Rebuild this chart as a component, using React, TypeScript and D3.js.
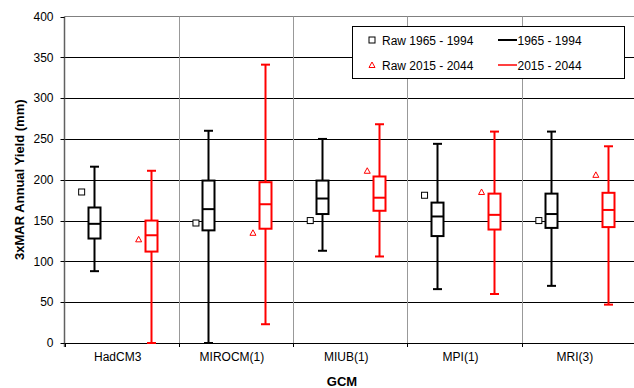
import React from 'react';
import * as d3 from 'd3';

// GCM names along the x axis
const categories = ['HadCM3', 'MIROCM(1)', 'MIUB(1)', 'MPI(1)', 'MRI(3)'];

// 1965 - 1994 box statistics (mm)
const histMin = [88, 0, 113, 66, 70];
const histQ1 = [128, 138, 158, 131, 141];
const histMed = [146, 164, 177, 155, 158];
const histQ3 = [166, 199, 199, 172, 183];
const histMax = [216, 260, 250, 244, 259];
const histRaw = [185, 147, 150, 181, 150];

// 2015 - 2044 box statistics (mm)
const futMin = [0, 23, 106, 60, 47];
const futQ1 = [112, 140, 162, 139, 142];
const futMed = [132, 170, 178, 157, 163];
const futQ3 = [150, 197, 204, 183, 184];
const futMax = [211, 341, 268, 259, 241];
const futRaw = [127, 135, 211, 185, 206];

const yTicks = [0, 50, 100, 150, 200, 250, 300, 350, 400];

const W = 634;
const H = 388;
const left = 64.5;
const right = 636;
const top = 16.5;
const bottom = 343;
const font = 'Liberation Sans, Arial, sans-serif';

export default function App() {
  const x = d3.scaleBand<string>().domain(categories).range([left, right]);
  const y = d3.scaleLinear().domain([0, 400]).range([bottom, top]);
  const cx = (c: string) => (x(c) as number) + x.bandwidth() / 2;

  const series = [
    { color: '#000', off: -28, rawOff: -40, min: histMin, q1: histQ1, med: histMed, q3: histQ3, max: histMax, raw: histRaw, marker: 'square' },
    { color: '#ff0000', off: 29, rawOff: 17, min: futMin, q1: futQ1, med: futMed, q3: futQ3, max: futMax, raw: futRaw, marker: 'tri' },
  ];
  const boxW = 12;
  const capW = 9;

  return (
    <svg width={W} height={H} style={{ position: 'absolute', left: 0, top: 0, background: '#fff' }} fontFamily={font}>
      {/* horizontal gridlines */}
      {yTicks.filter((t) => t > 0 && t < 400).map((t) => (
        <line key={'g' + t} x1={left} x2={right} y1={Math.round(y(t)) + 0.5} y2={Math.round(y(t)) + 0.5} stroke="#000" strokeWidth={1} />
      ))}
      <line x1={left} x2={right} y1={top} y2={top} stroke="#808080" strokeWidth={1} />
      {/* category separators */}
      {categories.slice(1).map((c) => (
        <line key={'v' + c} x1={Math.round(x(c) as number) + 0.5} x2={Math.round(x(c) as number) + 0.5} y1={top} y2={bottom} stroke="#999" strokeWidth={1} />
      ))}
      {/* y axis */}
      <line x1={left} x2={left} y1={top} y2={bottom + 4} stroke="#606060" strokeWidth={1.5} />
      {yTicks.map((t) => (
        <g key={'t' + t}>
          <line x1={left - 4} x2={left} y1={Math.round(y(t)) + 0.5} y2={Math.round(y(t)) + 0.5} stroke="#000" />
          <text x={53.5} y={y(t) + 4.3} fontSize={12} textAnchor="end" fill="#000">{t}</text>
        </g>
      ))}
      {/* x axis */}
      <line x1={left} x2={right} y1={bottom + 0.5} y2={bottom + 0.5} stroke="#000" strokeWidth={1.2} />
      {categories.concat(['']).map((c, i) => {
        const xx = i < categories.length ? (x(c) as number) : right;
        return <line key={'xt' + i} x1={Math.round(xx) + 0.5} x2={Math.round(xx) + 0.5} y1={bottom} y2={bottom + 4} stroke="#000" />;
      })}
      {categories.map((c) => (
        <text key={'xl' + c} x={cx(c) - 4} y={361} fontSize={12} textAnchor="middle" fill="#000">{c}</text>
      ))}
      <text x={342} y={385.5} fontSize={13} fontWeight="bold" textAnchor="middle">GCM</text>
      <text transform={`translate(24,${(top + bottom) / 2}) rotate(-90)`} fontSize={13} fontWeight="bold" textAnchor="middle">3xMAR Annual Yield (mm)</text>

      {/* boxes */}
      {series.map((s, si) => (
        <g key={'s' + si} stroke={s.color} fill="none" strokeWidth={2}>
          {categories.map((c, i) => {
            const px = Math.round(cx(c) + s.off) + 0.5;
            const rx = cx(c) + s.rawOff;
            const ry = y(s.raw[i]);
            return (
              <g key={c}>
                <line x1={px} x2={px} y1={y(s.max[i])} y2={y(s.q3[i])} />
                <line x1={px} x2={px} y1={y(s.q1[i])} y2={y(s.min[i])} />
                <line x1={px - capW / 2} x2={px + capW / 2} y1={y(s.max[i])} y2={y(s.max[i])} />
                <line x1={px - capW / 2} x2={px + capW / 2} y1={y(s.min[i])} y2={y(s.min[i])} />
                <rect x={px - boxW / 2} y={y(s.q3[i])} width={boxW} height={y(s.q1[i]) - y(s.q3[i])} fill="#fff" />
                <line x1={px - boxW / 2} x2={px + boxW / 2} y1={y(s.med[i])} y2={y(s.med[i])} />
                {s.marker === 'square' ? (
                  <rect x={rx - 3} y={ry - 3} width={6} height={6} strokeWidth={1} fill="#fff" />
                ) : (
                  <path d={`M${rx - 3},${ry + 2.5}L${rx + 3},${ry + 2.5}L${rx},${ry - 3}Z`} strokeWidth={1} fill="#fff" />
                )}
              </g>
            );
          })}
        </g>
      ))}

      {/* legend */}
      <g>
        <rect x={352.5} y={26.5} width={272} height={52} fill="#fff" stroke="#000" strokeWidth={1} />
        <rect x={369} y={37} width={6} height={6} fill="#fff" stroke="#000" />
        <text x={382} y={44.5} fontSize={12}>Raw 1965 - 1994</text>
        <line x1={498} x2={517} y1={40} y2={40} stroke="#000" strokeWidth={2} />
        <text x={517.5} y={44.5} fontSize={12}>1965 - 1994</text>
        <path d="M369,67.5L375,67.5L372,62Z" fill="#fff" stroke="#ff0000" />
        <text x={382} y={69.5} fontSize={12}>Raw 2015 - 2044</text>
        <line x1={498} x2={517} y1={65} y2={65} stroke="#ff0000" strokeWidth={1.5} />
        <text x={517.5} y={69.5} fontSize={12}>2015 - 2044</text>
      </g>
    </svg>
  );
}
